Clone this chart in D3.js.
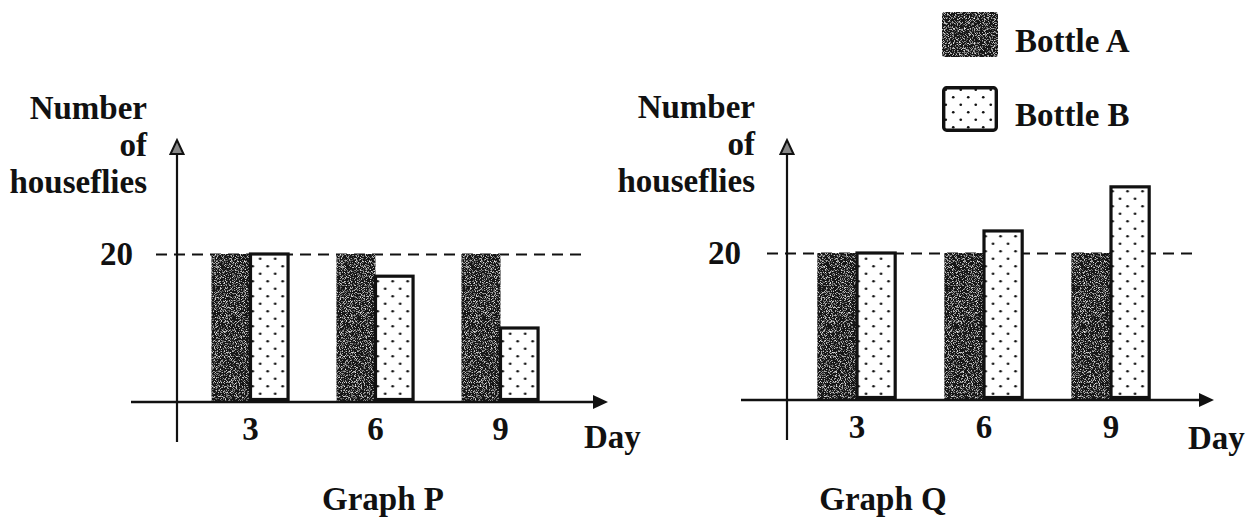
<!DOCTYPE html>
<html>
<head>
<meta charset="utf-8">
<script src="https://cdn.jsdelivr.net/npm/d3@7"></script>
<style>
  html, body { margin: 0; padding: 0; background: #fff; }
  svg text { font-family: "Liberation Serif", "Times New Roman", serif; font-weight: bold; fill: #111; }
</style>
</head>
<body>
<script>
// Houseflies counted in two bottles on days 3, 6 and 9
const days = [3, 6, 9];
const seriesNames = ["Bottle A", "Bottle B"];
const graphPBottleA = [20, 20, 20];
const graphPBottleB = [20, 17, 10];
const graphQBottleA = [20, 20, 20];
const graphQBottleB = [20, 23, 29];
const yTickValues = [20];
const yLabelLines = ["Number", "of", "houseflies"];
const xLabel = "Day";
const graphTitles = ["Graph P", "Graph Q"];

const W = 1250, H = 522;
const svg = d3.select("body").append("svg").attr("width", W).attr("height", H);
const defs = svg.append("defs");

// dotted fill for Bottle B
const dots = defs.append("pattern").attr("id", "dots")
  .attr("patternUnits", "userSpaceOnUse").attr("width", 15).attr("height", 15);
dots.append("rect").attr("width", 15).attr("height", 15).attr("fill", "#fff");
dots.append("circle").attr("cx", 3.75).attr("cy", 3.75).attr("r", 1.35).attr("fill", "#111");
dots.append("circle").attr("cx", 11.25).attr("cy", 11.25).attr("r", 1.35).attr("fill", "#111");

// grainy dark fill for Bottle A
const grain = defs.append("filter").attr("id", "grain")
  .attr("x", 0).attr("y", 0).attr("width", 1).attr("height", 1);
grain.append("feTurbulence").attr("type", "fractalNoise").attr("baseFrequency", 1.2)
  .attr("numOctaves", 1).attr("seed", 7).attr("result", "noise");
grain.append("feColorMatrix").attr("in", "noise").attr("type", "matrix")
  .attr("values", "0 0 0 0 1  0 0 0 0 1  0 0 0 0 1  3.4 0 0 0 -1.75").attr("result", "specks");
grain.append("feComposite").attr("in", "specks").attr("in2", "SourceGraphic")
  .attr("operator", "in").attr("result", "specksIn");
const merge = grain.append("feMerge");
merge.append("feMergeNode").attr("in", "SourceGraphic");
merge.append("feMergeNode").attr("in", "specksIn");

const FONT = 33;
const DARK = "#161616";

function drawGraph(cfg) {
  const g = svg.append("g");

  const x = d3.scaleBand().domain(days).range(cfg.xRange)
    .paddingInner(0.375).paddingOuter(0.1875);
  const xs = d3.scaleBand().domain(seriesNames).range([0, x.bandwidth()]);
  const y = d3.scaleLinear().domain([0, 20]).range([cfg.baseY, cfg.refY]);

  // reference line at 20 with its label
  const yAxis = g.append("g").attr("transform", `translate(${cfg.axisX},0)`)
    .call(d3.axisLeft(y).tickValues(yTickValues)
      .tickSizeInner(-(cfg.dashRight - cfg.axisX)).tickSizeOuter(0)
      .tickPadding(cfg.axisX - cfg.tickLabelRight));
  yAxis.select(".domain").remove();
  yAxis.selectAll(".tick line")
    .attr("x1", cfg.dashLeft - cfg.axisX)
    .attr("stroke", "#111").attr("stroke-width", 2).attr("stroke-dasharray", "11,7");
  yAxis.selectAll(".tick text").attr("font-size", FONT).attr("fill", "#111")
    .style("font-family", "'Liberation Serif', serif").style("font-weight", "bold");

  // bars
  const groups = g.selectAll(".day").data(days).enter().append("g")
    .attr("transform", d => `translate(${x(d)},0)`);
  groups.append("rect")
    .attr("x", xs("Bottle A"))
    .attr("y", (d, i) => y(cfg.a[i]))
    .attr("width", xs.bandwidth())
    .attr("height", (d, i) => y(0) - y(cfg.a[i]))
    .attr("fill", DARK).attr("filter", "url(#grain)");
  groups.append("rect")
    .attr("x", xs("Bottle B"))
    .attr("y", (d, i) => y(cfg.b[i]))
    .attr("width", xs.bandwidth() - 1.5)
    .attr("height", (d, i) => y(0) - y(cfg.b[i]) - 2.5)
    .attr("fill", "url(#dots)").attr("stroke", "#111").attr("stroke-width", 3.2);

  // x axis with arrow
  g.append("line").attr("x1", cfg.xLeft).attr("x2", cfg.xRight - 10)
    .attr("y1", y(0)).attr("y2", y(0)).attr("stroke", "#111").attr("stroke-width", 2.6);
  g.append("path")
    .attr("d", `M${cfg.xRight},${y(0)} L${cfg.xRight - 15},${y(0) - 7} L${cfg.xRight - 15},${y(0) + 7} Z`)
    .attr("fill", "#111");

  // y axis with arrow
  g.append("line").attr("x1", cfg.axisX).attr("x2", cfg.axisX)
    .attr("y1", cfg.yTop + 2).attr("y2", cfg.yBottom).attr("stroke", "#111").attr("stroke-width", 2.2);
  g.append("path")
    .attr("d", `M${cfg.axisX - 6.5},${cfg.yTop + 14} L${cfg.axisX},${cfg.yTop} L${cfg.axisX + 6.5},${cfg.yTop + 14} Z`)
    .attr("fill", "#888").attr("stroke", "#111").attr("stroke-width", 2);

  // day tick labels
  const xAxis = g.append("g").attr("transform", `translate(0,${y(0)})`)
    .call(d3.axisBottom(x).tickSize(0).tickPadding(15));
  xAxis.select(".domain").remove();
  xAxis.selectAll(".tick text").attr("font-size", FONT).attr("fill", "#111")
    .style("font-family", "'Liberation Serif', serif").style("font-weight", "bold");

  g.append("text").attr("x", cfg.dayX).attr("y", cfg.dayY)
    .attr("font-size", FONT).text(xLabel);

  // y axis title
  g.selectAll(".ylab").data(yLabelLines).enter().append("text")
    .attr("x", cfg.labelRight).attr("y", (d, i) => cfg.labelBaselines[i])
    .attr("text-anchor", "end").attr("font-size", FONT).text(d => d);

  // graph title
  g.append("text").attr("x", cfg.titleX).attr("y", 510)
    .attr("text-anchor", "middle").attr("font-size", FONT).text(cfg.title);
}

drawGraph({
  title: graphTitles[0], a: graphPBottleA, b: graphPBottleB,
  xRange: [188, 563], baseY: 402, refY: 254,
  axisX: 177, yTop: 140, yBottom: 442,
  xLeft: 131, xRight: 608, dashLeft: 156, dashRight: 588,
  tickLabelRight: 133, labelRight: 147, labelBaselines: [119, 156, 193],
  dayX: 584, dayY: 448, titleX: 383
});

drawGraph({
  title: graphTitles[1], a: graphQBottleA, b: graphQBottleB,
  xRange: [793.5, 1174.5], baseY: 400, refY: 253,
  axisX: 787, yTop: 140, yBottom: 440,
  xLeft: 741, xRight: 1214, dashLeft: 767, dashRight: 1192,
  tickLabelRight: 741, labelRight: 755, labelBaselines: [118, 155, 192],
  dayX: 1188, dayY: 449, titleX: 883
});

// legend
const legend = svg.append("g");
const legendRows = legend.selectAll("g").data(seriesNames).enter().append("g")
  .attr("transform", (d, i) => `translate(942,${12 + i * 74})`);
legendRows.append("rect")
  .attr("x", (d, i) => i ? 1.7 : 0).attr("y", (d, i) => i ? 1.7 : 0)
  .attr("width", (d, i) => i ? 52.6 : 56).attr("height", (d, i) => i ? 42.6 : 45)
  .attr("rx", 3)
  .attr("fill", (d, i) => i ? "url(#dots)" : DARK)
  .attr("filter", (d, i) => i ? null : "url(#grain)")
  .attr("stroke", (d, i) => i ? "#111" : "none").attr("stroke-width", 3.4);
legendRows.append("text").attr("x", 73).attr("y", 40)
  .attr("font-size", FONT).text(d => d);
</script>
</body>
</html>
